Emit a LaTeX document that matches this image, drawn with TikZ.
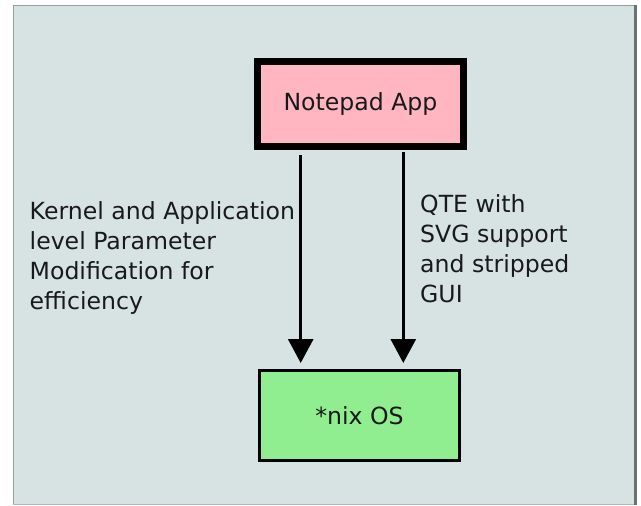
\documentclass[tikz,border=0pt]{standalone}
\usepackage{fontspec}
\setmainfont{DejaVu Sans}
\usetikzlibrary{arrows.meta}
\definecolor{panelbg}{RGB}{215,227,227}
\definecolor{pinkfill}{RGB}{255,182,193}
\definecolor{greenfill}{RGB}{144,238,144}
\definecolor{edgelight}{RGB}{150,158,158}
\definecolor{edgedark}{RGB}{105,114,114}
\definecolor{inkcol}{RGB}{25,25,25}
\begin{document}
\begin{tikzpicture}[x=1pt,y=1pt,
  every node/.style={font=\fontsize{23.6}{30}\selectfont, text=inkcol},
  boxnode/.style={draw=black, rectangle, inner sep=0pt},
  labeltext/.style={align=left, inner sep=0pt, anchor=north west},
  arr/.style={line width=3pt, draw=black, -{Triangle[length=24pt,width=25pt]}}]
\useasboundingbox (0,0) rectangle (641,-506);
\fill[white] (0,0) rectangle (641,-506);
% panel
\fill[panelbg] (13,-5) rectangle (637,-505);
\draw[edgelight, line width=1.5pt] (13.5,-505) -- (13.5,-5.5) -- (636,-5.5);
\draw[edgedark, line width=3pt] (635.5,-5) -- (635.5,-505);
\draw[edgelight!60!panelbg, line width=1pt] (13,-504.5) -- (634,-504.5);
% boxes
\node[boxnode, fill=pinkfill, line width=7pt, minimum width=206pt, minimum height=85pt]
  (app) at (360.5,-104) {Notepad App};
\node[boxnode, fill=greenfill, line width=3pt, minimum width=200pt, minimum height=90pt]
  (os) at (359.5,-415.5) {*nix OS};
% arrows
\coordinate (a1s) at (300.7,-155);
\coordinate (a1e) at (300.7,-363);
\coordinate (a2s) at (403.3,-152);
\coordinate (a2e) at (403.3,-363);
\draw[arr] (a1s) -- (a1e);
\draw[arr] (a2s) -- (a2e);
% labels
\node[labeltext] (ltxt) at (29.5,-201.5) {Kernel and Application\\level Parameter\\Modification for\\efficiency};
\node[labeltext] (rtxt) at (420,-194.5) {QTE with\\SVG support\\and stripped\\GUI};
\end{tikzpicture}
\end{document}
